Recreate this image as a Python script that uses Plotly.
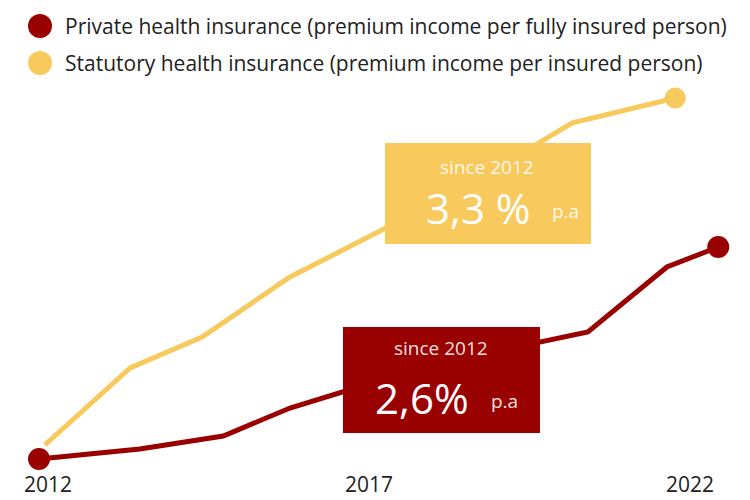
import plotly.graph_objects as go

# ---- data (index values, x as fractional year positions) ----
private_years = [2011.86, 2013.43, 2014.73, 2015.77, 2017.95, 2020.41, 2021.64, 2022.44]
private_index = [11, 21, 34, 62, 105, 138, 203, 223]
statutory_years = [2011.95, 2013.28, 2014.40, 2015.77, 2018.42, 2020.16, 2021.77]
statutory_index = [25, 102, 133, 193, 280, 347, 372]
tick_years = [2012, 2017, 2022]
tick_labels = ["2012", "2017", "2022"]
legend_names = ["Private health insurance (premium income per fully insured person)",
                "Statutory health insurance (premium income per insured person)"]
growth_private = "2,6%"
growth_statutory = "3,3 %"

RED = "#990000"
YEL = "#F8C95C"
FONT = "Open Sans"
W, H = 750, 500
ML, MR, MT, MB = 0, 0, 80, 30
PH = H - MT - MB


def px(x):
    return x / W


def py(y):
    return (H - MB - y) / PH


fig = go.Figure()
fig.add_trace(go.Scatter(x=statutory_years, y=statutory_index, mode="lines",
                         line=dict(color=YEL, width=5), showlegend=False, hoverinfo="skip"))
fig.add_trace(go.Scatter(x=[statutory_years[-1]], y=[statutory_index[-1]], mode="markers",
                         marker=dict(color=YEL, size=21), showlegend=False, hoverinfo="skip"))
fig.add_trace(go.Scatter(x=private_years, y=private_index, mode="lines",
                         line=dict(color=RED, width=5), showlegend=False, hoverinfo="skip"))
fig.add_trace(go.Scatter(x=[private_years[0], private_years[-1]],
                         y=[private_index[0], private_index[-1]], mode="markers",
                         marker=dict(color=RED, size=22), showlegend=False, hoverinfo="skip"))

shapes = []
annotations = []

# legend
for i, (name, col) in enumerate(zip(legend_names, [RED, YEL])):
    cy = 26 + i * 37
    shapes.append(dict(type="circle", xref="paper", yref="paper",
                       x0=px(28), x1=px(52), y0=py(cy + 12), y1=py(cy - 12),
                       fillcolor=col, line=dict(width=0)))
    annotations.append(dict(xref="paper", yref="paper", x=px(63), y=py(cy),
                            xanchor="left", yanchor="middle", showarrow=False,
                            text=name, font=dict(family=FONT, size=21, color="#222222")))

# boxes
boxes = [
    (385, 591, 143, 244, YEL, growth_statutory, 487, 167, 478, 207, 565, 211),
    (343, 540, 327, 433, RED, growth_private, 441, 348, 422, 397, 504, 401),
]
for (x0, x1, y0, y1, col, big, sx, sy, bx, by, pax, pay) in boxes:
    shapes.append(dict(type="rect", xref="paper", yref="paper", layer="above",
                       x0=px(x0), x1=px(x1), y0=py(y1), y1=py(y0),
                       fillcolor=col, line=dict(width=0)))
    annotations.append(dict(xref="paper", yref="paper", x=px(sx), y=py(sy),
                            xanchor="center", yanchor="middle", showarrow=False,
                            text="since 2012", font=dict(family=FONT, size=19, color="rgba(255,255,255,0.9)")))
    annotations.append(dict(xref="paper", yref="paper", x=px(bx), y=py(by),
                            xanchor="center", yanchor="middle", showarrow=False,
                            text=big, font=dict(family=FONT, size=42, color="white")))
    annotations.append(dict(xref="paper", yref="paper", x=px(pax), y=py(pay),
                            xanchor="center", yanchor="middle", showarrow=False,
                            text="p.a", font=dict(family=FONT, size=19, color="rgba(255,255,255,0.9)")))

x_left = 2012 - 48 / 64.2
fig.update_layout(
    width=W, height=H,
    margin=dict(l=ML, r=MR, t=MT, b=MB),
    paper_bgcolor="white", plot_bgcolor="white",
    showlegend=False,
    shapes=shapes, annotations=annotations,
    xaxis=dict(range=[x_left, x_left + W / 64.2], tickvals=tick_years, ticktext=tick_labels,
               showgrid=False, zeroline=False, showline=False, ticks="",
               tickfont=dict(family=FONT, size=21, color="#222222")),
    yaxis=dict(range=[0, PH], visible=False, showgrid=False, zeroline=False),
)

fig.write_html("out.html")
